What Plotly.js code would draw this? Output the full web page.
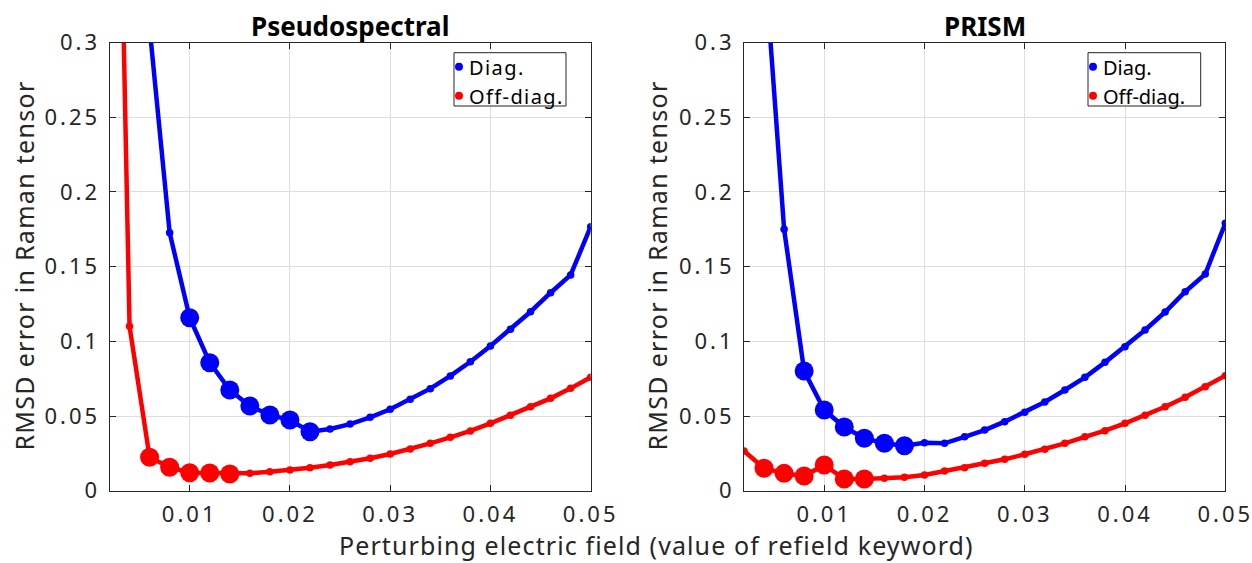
<!DOCTYPE html>
<html>
<head>
<meta charset="utf-8">
<script src="https://cdn.plot.ly/plotly-3.0.1.min.js"></script>
<style>
  html, body { margin: 0; padding: 0; background: #fff; }
  #chart { width: 1252px; height: 563px; }
  .xaxislayer-above text, .yaxislayer-above text,
  .xtick text, .ytick text { letter-spacing: 3px !important; }
  .legendtext { letter-spacing: 1.4px; }
  g.legendpoints { transform: translate(10px, 0px); }
</style>
</head>
<body>
<div id="chart"></div>
<script>
// Perturbing electric field values (refield keyword)
const field = [0.002, 0.004, 0.006, 0.008, 0.010, 0.012, 0.014, 0.016, 0.018, 0.020,
               0.022, 0.024, 0.026, 0.028, 0.030, 0.032, 0.034, 0.036, 0.038, 0.040,
               0.042, 0.044, 0.046, 0.048, 0.050];

// Pseudospectral panel
const pseudoDiag = [null, null, 0.310, 0.1727, 0.1158, 0.0857, 0.0674, 0.0567, 0.0507, 0.0473,
                    0.0395, 0.0413, 0.0446, 0.0491, 0.0545, 0.0612, 0.0683, 0.0768, 0.0863, 0.0968,
                    0.1080, 0.1198, 0.1325, 0.1444, 0.1767];
const pseudoOff  = [0.77, 0.110, 0.0224, 0.0157, 0.0120, 0.0119, 0.0112, 0.0116, 0.0127, 0.0138,
                    0.0154, 0.0172, 0.0194, 0.0217, 0.0246, 0.0279, 0.0317, 0.0357, 0.0400, 0.0451,
                    0.0505, 0.0562, 0.0618, 0.0685, 0.0759];
// highlighted (large-marker) points
const pseudoDiagHighlight = [0.010, 0.012, 0.014, 0.016, 0.018, 0.020, 0.022];
const pseudoOffHighlight  = [0.006, 0.008, 0.010, 0.012, 0.014];

// PRISM panel
const prismDiag = [null, 0.36, 0.175, 0.0801, 0.0540, 0.0426, 0.0351, 0.0317, 0.0301, 0.0321,
                   0.0317, 0.0361, 0.0406, 0.0462, 0.0525, 0.0594, 0.0674, 0.0759, 0.0859, 0.0964,
                   0.1076, 0.1196, 0.1332, 0.1450, 0.1790];
const prismOff  = [0.0266, 0.0150, 0.0116, 0.0098, 0.0172, 0.0078, 0.0078, 0.0083, 0.0090, 0.0105,
                   0.0132, 0.0154, 0.0183, 0.0210, 0.0244, 0.0277, 0.0317, 0.0361, 0.0402, 0.0451,
                   0.0505, 0.0562, 0.0625, 0.0696, 0.0770];
const prismDiagHighlight = [0.008, 0.010, 0.012, 0.014, 0.016, 0.018];
const prismOffHighlight  = [0.004, 0.006, 0.008, 0.010, 0.012, 0.014];

const xTickVals = [0.01, 0.02, 0.03, 0.04, 0.05];
const xTickText = ['0.01', '0.02', '0.03', '0.04', '0.05'];
const yTickVals = [0, 0.05, 0.1, 0.15, 0.2, 0.25, 0.3];
const yTickText = ['0', '0.05', '0.1', '0.15', '0.2', '0.25', '0.3'];

const seriesNames = ['Diag.', 'Off-diag.'];
const panelTitles = ['Pseudospectral', 'PRISM'];
const yTitle = 'RMSD error in Raman tensor';
const xTitle = 'Perturbing electric field (value of refield keyword)';

// ---------- styling / construction ----------
const BLUE = '#0000ff', RED = '#ff0000', INK = '#262626';
const FONT = 'Noto Sans, DejaVu Sans, sans-serif';

function sizes(highlight) {
  return field.map(f => highlight.some(h => Math.abs(h - f) < 1e-9) ? 19 : 7.5);
}
function series(y, hl, color, xa, ya) {
  return {
    x: field, y: y, xaxis: xa, yaxis: ya, type: 'scatter', mode: 'lines+markers',
    line: {color: color, width: 4.5},
    marker: {color: color, size: sizes(hl), opacity: 1, line: {width: 0}},
    showlegend: false, hoverinfo: 'x+y', connectgaps: false
  };
}
function legendEntry(name, color, legend) {
  return {x: [null], y: [null], type: 'scatter', mode: 'markers', name: name,
          marker: {color: color, size: 8, opacity: 1, line: {width: 0}}, legend: legend, showlegend: true,
          xaxis: legend === 'legend' ? 'x' : 'x2', yaxis: legend === 'legend' ? 'y' : 'y2'};
}

const data = [
  series(pseudoDiag, pseudoDiagHighlight, BLUE, 'x', 'y'),
  series(pseudoOff, pseudoOffHighlight, RED, 'x', 'y'),
  series(prismDiag, prismDiagHighlight, BLUE, 'x2', 'y2'),
  series(prismOff, prismOffHighlight, RED, 'x2', 'y2'),
  legendEntry(seriesNames[0], BLUE, 'legend'),
  legendEntry(seriesNames[1], RED, 'legend'),
  legendEntry(seriesNames[0], BLUE, 'legend2'),
  legendEntry(seriesNames[1], RED, 'legend2')
];

const W = 1252, H = 563;
const plotTop = 42.5, plotBottom = 490.7;
const yDom = [1 - plotBottom / H, 1 - plotTop / H];

function xAxis(domain, anchor) {
  return {
    domain: domain, anchor: anchor, range: [0.002, 0.05],
    tickmode: 'array', tickvals: xTickVals, ticktext: xTickText,
    showgrid: true, gridcolor: '#dedede', gridwidth: 1, zeroline: false,
    showline: true, linecolor: INK, linewidth: 1, mirror: 'ticks',
    ticks: 'inside', ticklen: 6, tickcolor: INK,
    tickfont: {family: FONT, size: 22, color: INK}, ticklabelstandoff: 4
  };
}
function yAxis(anchor) {
  return {
    domain: yDom, anchor: anchor, range: [0, 0.3],
    tickmode: 'array', tickvals: yTickVals, ticktext: yTickText,
    showgrid: true, gridcolor: '#dedede', gridwidth: 1, zeroline: false,
    showline: true, linecolor: INK, linewidth: 1, mirror: 'ticks',
    ticks: 'inside', ticklen: 6, tickcolor: INK,
    tickfont: {family: FONT, size: 22, color: INK}, ticklabelstandoff: 4
  };
}
function legendBox(xLeft) {
  return {
    x: xLeft / W, xanchor: 'left', y: 1 - 47.2 / H, yanchor: 'top',
    bgcolor: 'rgba(0,0,0,0)', borderwidth: 0,
    font: {family: FONT, size: 20, color: '#000'}, itemwidth: 30, tracegroupgap: 0
  };
}
function legendFrame(x0, x1) {
  return {type: 'rect', xref: 'paper', yref: 'paper', layer: 'above',
          x0: x0 / W, x1: x1 / W, y0: 1 - 106 / H, y1: 1 - 52.7 / H,
          line: {color: INK, width: 1}, fillcolor: '#ffffff'};
}
function spaced(text, px) {
  return '<span style="letter-spacing:' + px + 'px">' + text + '</span>';
}

const layout = {
  width: W, height: H, margin: {l: 0, r: 0, t: 0, b: 0},
  paper_bgcolor: '#fff', plot_bgcolor: '#fff',
  font: {family: FONT, color: INK},
  xaxis: xAxis([109.5 / W, 590.7 / W], 'y'),
  yaxis: yAxis('x'),
  xaxis2: xAxis([744 / W, 1225.3 / W], 'y2'),
  yaxis2: yAxis('x2'),
  legend: legendBox(429),
  legend2: legendBox(1063),
  shapes: [legendFrame(454, 566), legendFrame(1088, 1200.7)],
  annotations: [
    {text: '<b>' + panelTitles[0] + '</b>', xref: 'paper', yref: 'paper', x: 350 / W, y: 1 - 26 / H,
     xanchor: 'center', yanchor: 'middle', showarrow: false, font: {family: FONT, size: 26, color: '#000'}},
    {text: '<b>' + panelTitles[1] + '</b>', xref: 'paper', yref: 'paper', x: 985 / W, y: 1 - 26 / H,
     xanchor: 'center', yanchor: 'middle', showarrow: false, font: {family: FONT, size: 26, color: '#000'}},
    {text: spaced(yTitle, 1.3), xref: 'paper', yref: 'paper', x: 23 / W, y: 1 - 265.5 / H, textangle: -90,
     xanchor: 'center', yanchor: 'middle', showarrow: false, font: {family: FONT, size: 25, color: INK}},
    {text: spaced(yTitle, 1.3), xref: 'paper', yref: 'paper', x: 656 / W, y: 1 - 265.5 / H, textangle: -90,
     xanchor: 'center', yanchor: 'middle', showarrow: false, font: {family: FONT, size: 25, color: INK}},
    {text: spaced(xTitle, 1.1), xref: 'paper', yref: 'paper', x: 656 / W, y: 1 - 545 / H,
     xanchor: 'center', yanchor: 'middle', showarrow: false, font: {family: FONT, size: 25, color: INK}}
  ]
};

Plotly.newPlot('chart', data, layout, {staticPlot: true, displayModeBar: false});
</script>
</body>
</html>
